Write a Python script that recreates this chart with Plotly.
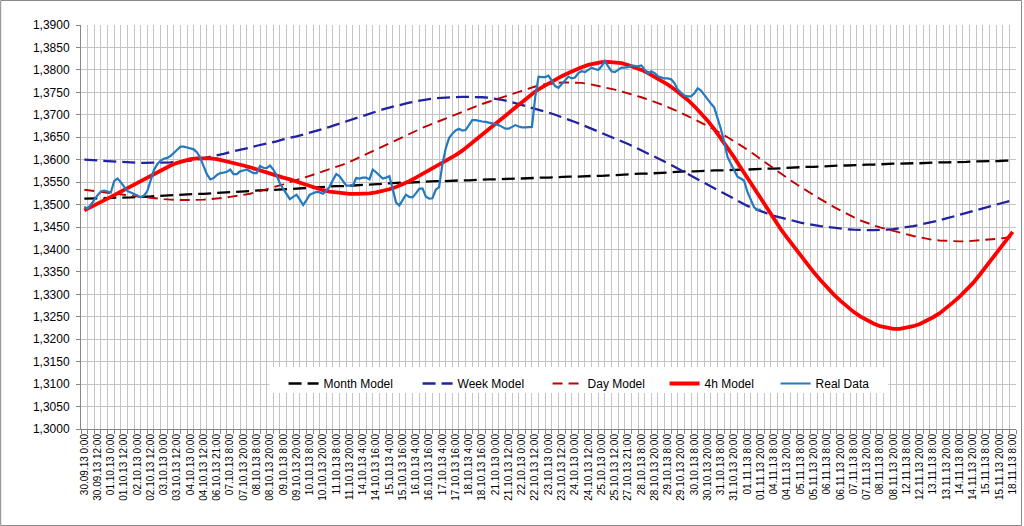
import plotly.graph_objects as go

# ---------------- data ----------------
tick_labels = [
    "30.09.13 0:00", "30.09.13 12:00", "01.10.13 0:00", "01.10.13 12:00", "02.10.13 0:00",
    "02.10.13 12:00", "03.10.13 0:00", "03.10.13 12:00", "04.10.13 0:00", "04.10.13 12:00",
    "06.10.13 21:00", "07.10.13 8:00", "07.10.13 20:00", "08.10.13 8:00", "08.10.13 20:00",
    "09.10.13 8:00", "09.10.13 20:00", "10.10.13 8:00", "10.10.13 20:00", "11.10.13 8:00",
    "11.10.13 20:00", "14.10.13 4:00", "14.10.13 16:00", "15.10.13 4:00", "15.10.13 16:00",
    "16.10.13 4:00", "16.10.13 16:00", "17.10.13 4:00", "17.10.13 16:00", "18.10.13 4:00",
    "18.10.13 16:00", "21.10.13 0:00", "21.10.13 12:00", "22.10.13 0:00", "22.10.13 12:00",
    "23.10.13 0:00", "23.10.13 12:00", "24.10.13 0:00", "24.10.13 12:00", "25.10.13 0:00",
    "25.10.13 12:00", "27.10.13 21:00", "28.10.13 8:00", "28.10.13 20:00", "29.10.13 8:00",
    "29.10.13 20:00", "30.10.13 8:00", "30.10.13 20:00", "31.10.13 8:00", "31.10.13 20:00",
    "01.11.13 8:00", "01.11.13 20:00", "04.11.13 8:00", "04.11.13 20:00", "05.11.13 8:00",
    "05.11.13 20:00", "06.11.13 8:00", "06.11.13 20:00", "07.11.13 8:00", "07.11.13 20:00",
    "08.11.13 8:00", "08.11.13 20:00", "12.11.13 8:00", "12.11.13 20:00", "13.11.13 8:00",
    "13.11.13 20:00", "14.11.13 8:00", "14.11.13 20:00", "15.11.13 8:00", "15.11.13 20:00",
    "18.11.13 8:00",
]

month_model = [
    1.3513, 1.3513, 1.3514, 1.3514, 1.3515, 1.3515, 1.3516, 1.3516, 1.3517, 1.3517,
    1.3518, 1.3519, 1.3520, 1.3520, 1.3521, 1.3522, 1.3523, 1.3524, 1.3524, 1.3525,
    1.3526, 1.3527, 1.3528, 1.3528, 1.3529, 1.3530, 1.3531, 1.3532, 1.3532, 1.3533,
    1.3534, 1.3535, 1.3536, 1.3537, 1.3537, 1.3538, 1.3539, 1.3540, 1.3541, 1.3541,
    1.3542, 1.3543, 1.3544, 1.3545, 1.3546, 1.3546, 1.3547, 1.3548, 1.3549, 1.3549,
    1.3550, 1.3551, 1.3551, 1.3552, 1.3552, 1.3553, 1.3553, 1.3554, 1.3554, 1.3555,
    1.3555, 1.3556, 1.3556, 1.3557, 1.3557, 1.3558, 1.3558, 1.3559, 1.3559, 1.3560,
    1.3560, 1.3561, 1.3561, 1.3562, 1.3562, 1.3563, 1.3563, 1.3564, 1.3564, 1.3565,
    1.3566, 1.3566, 1.3567, 1.3568, 1.3569, 1.3569, 1.3570, 1.3571, 1.3572, 1.3572,
    1.3573, 1.3574, 1.3574, 1.3575, 1.3575, 1.3576, 1.3576, 1.3577, 1.3577, 1.3578,
    1.3578, 1.3579, 1.3579, 1.3580, 1.3580, 1.3581, 1.3582, 1.3582, 1.3583, 1.3584,
    1.3584, 1.3585, 1.3585, 1.3586, 1.3587, 1.3587, 1.3588, 1.3588, 1.3589, 1.3589,
    1.3590, 1.3590, 1.3591, 1.3591, 1.3592, 1.3592, 1.3592, 1.3593, 1.3593, 1.3594,
    1.3594, 1.3594, 1.3595, 1.3595, 1.3596, 1.3596, 1.3596, 1.3597, 1.3597, 1.3598,
    1.3598,
]

week_model = [
    1.3600, 1.3599, 1.3598, 1.3597, 1.3596, 1.3595, 1.3594, 1.3594, 1.3593, 1.3593,
    1.3593, 1.3593, 1.3593, 1.3594, 1.3595, 1.3596, 1.3598, 1.3600, 1.3603, 1.3606,
    1.3610, 1.3613, 1.3617, 1.3620, 1.3624, 1.3627, 1.3631, 1.3634, 1.3638, 1.3641,
    1.3645, 1.3648, 1.3652, 1.3656, 1.3660, 1.3664, 1.3668, 1.3673, 1.3678, 1.3683,
    1.3688, 1.3693, 1.3698, 1.3703, 1.3708, 1.3712, 1.3716, 1.3720, 1.3724, 1.3727,
    1.3730, 1.3733, 1.3735, 1.3737, 1.3738, 1.3739, 1.3740, 1.3740, 1.3740, 1.3740,
    1.3739, 1.3738, 1.3736, 1.3733, 1.3730, 1.3726, 1.3722, 1.3718, 1.3714, 1.3709,
    1.3705, 1.3700, 1.3695, 1.3689, 1.3684, 1.3678, 1.3672, 1.3666, 1.3660, 1.3654,
    1.3648, 1.3641, 1.3635, 1.3628, 1.3621, 1.3614, 1.3607, 1.3600, 1.3592, 1.3584,
    1.3576, 1.3568, 1.3560, 1.3552, 1.3544, 1.3536, 1.3528, 1.3520, 1.3512, 1.3504,
    1.3497, 1.3491, 1.3485, 1.3480, 1.3475, 1.3471, 1.3467, 1.3463, 1.3460, 1.3457,
    1.3454, 1.3452, 1.3450, 1.3448, 1.3446, 1.3445, 1.3444, 1.3443, 1.3443, 1.3443,
    1.3443, 1.3444, 1.3445, 1.3447, 1.3449, 1.3452, 1.3455, 1.3458, 1.3461, 1.3465,
    1.3469, 1.3473, 1.3477, 1.3481, 1.3485, 1.3489, 1.3493, 1.3497, 1.3501, 1.3505,
    1.3510,
]

day_model = [
    1.3533, 1.3531, 1.3529, 1.3527, 1.3525, 1.3523, 1.3521, 1.3519, 1.3518, 1.3516,
    1.3515, 1.3513, 1.3512, 1.3511, 1.3510, 1.3510, 1.3510, 1.3510, 1.3511, 1.3512,
    1.3513, 1.3515, 1.3517, 1.3519, 1.3521, 1.3524, 1.3528, 1.3532, 1.3536, 1.3541,
    1.3545, 1.3550, 1.3554, 1.3559, 1.3564, 1.3569, 1.3574, 1.3578, 1.3583, 1.3589,
    1.3595, 1.3602, 1.3609, 1.3616, 1.3623, 1.3630, 1.3637, 1.3643, 1.3650, 1.3657,
    1.3664, 1.3671, 1.3677, 1.3683, 1.3689, 1.3695, 1.3701, 1.3707, 1.3713, 1.3718,
    1.3724, 1.3729, 1.3734, 1.3739, 1.3744, 1.3749, 1.3754, 1.3759, 1.3763, 1.3767,
    1.3769, 1.3771, 1.3772, 1.3772, 1.3772, 1.3771, 1.3769, 1.3766, 1.3763, 1.3760,
    1.3756, 1.3752, 1.3748, 1.3744, 1.3739, 1.3734, 1.3729, 1.3723, 1.3717, 1.3711,
    1.3704, 1.3697, 1.3690, 1.3683, 1.3675, 1.3667, 1.3659, 1.3650, 1.3641, 1.3632,
    1.3622, 1.3612, 1.3601, 1.3590, 1.3579, 1.3569, 1.3559, 1.3549, 1.3539, 1.3530,
    1.3521, 1.3512, 1.3503, 1.3495, 1.3487, 1.3479, 1.3472, 1.3465, 1.3459, 1.3454,
    1.3449, 1.3445, 1.3441, 1.3437, 1.3433, 1.3430, 1.3427, 1.3424, 1.3421, 1.3420,
    1.3419, 1.3418, 1.3418, 1.3418, 1.3419, 1.3420, 1.3421, 1.3422, 1.3424, 1.3426,
    1.3428,
]

h4_model = [
    1.3487, 1.3494, 1.3501, 1.3509, 1.3517, 1.3525, 1.3533, 1.3541, 1.3549, 1.3557,
    1.3565, 1.3573, 1.3580, 1.3587, 1.3593, 1.3598, 1.3601, 1.3603, 1.3604, 1.3603,
    1.3601, 1.3598, 1.3595, 1.3591, 1.3587, 1.3583, 1.3578, 1.3574, 1.3569, 1.3565,
    1.3560, 1.3556, 1.3551, 1.3546, 1.3541, 1.3536, 1.3532, 1.3529, 1.3527, 1.3525,
    1.3524, 1.3524, 1.3524, 1.3525, 1.3527, 1.3530, 1.3534, 1.3539, 1.3545, 1.3552,
    1.3560, 1.3568, 1.3576, 1.3585, 1.3593, 1.3601, 1.3610, 1.3620, 1.3632, 1.3645,
    1.3658, 1.3670, 1.3681, 1.3692, 1.3704, 1.3717, 1.3730, 1.3742, 1.3752, 1.3761,
    1.3770, 1.3778, 1.3786, 1.3793, 1.3800, 1.3806, 1.3811, 1.3815, 1.3817, 1.3818,
    1.3817, 1.3815, 1.3811, 1.3806, 1.3800, 1.3793, 1.3785, 1.3776, 1.3767, 1.3757,
    1.3746, 1.3733, 1.3719, 1.3704, 1.3687, 1.3668, 1.3648, 1.3627, 1.3605, 1.3582,
    1.3559, 1.3535, 1.3512, 1.3489, 1.3467, 1.3446, 1.3426, 1.3406, 1.3386, 1.3367,
    1.3349, 1.3332, 1.3315, 1.3300, 1.3286, 1.3273, 1.3261, 1.3251, 1.3242, 1.3235,
    1.3229, 1.3225, 1.3223, 1.3223, 1.3225, 1.3229, 1.3234, 1.3241, 1.3249, 1.3258,
    1.3269, 1.3282, 1.3295, 1.3309, 1.3325, 1.3343, 1.3362, 1.3381, 1.3400, 1.3419,
    1.3439,
]

# real data: two samples per category
real_data = [
    1.3495, 1.3491, 1.3500, 1.3511, 1.3521, 1.3529, 1.3531, 1.3529, 1.3527, 1.3552,
    1.3558, 1.3550, 1.3540, 1.3530, 1.3527, 1.3524, 1.3520, 1.3516, 1.3520, 1.3530,
    1.3553, 1.3577, 1.3590, 1.3598, 1.3602, 1.3604, 1.3608, 1.3616, 1.3622, 1.3629,
    1.3629, 1.3627, 1.3625, 1.3623, 1.3616, 1.3604, 1.3585, 1.3567, 1.3556, 1.3559,
    1.3566, 1.3570, 1.3571, 1.3573, 1.3578, 1.3568, 1.3568, 1.3574, 1.3576, 1.3578,
    1.3574, 1.3570, 1.3570, 1.3586, 1.3582, 1.3581, 1.3587, 1.3578, 1.3565, 1.3547,
    1.3535, 1.3523, 1.3512, 1.3517, 1.3522, 1.3511, 1.3499, 1.3510, 1.3522, 1.3525,
    1.3528, 1.3527, 1.3524, 1.3531, 1.3540, 1.3555, 1.3568, 1.3563, 1.3552, 1.3542,
    1.3542, 1.3542, 1.3559, 1.3558, 1.3560, 1.3560, 1.3556, 1.3578, 1.3572, 1.3566,
    1.3558, 1.3560, 1.3563, 1.3535, 1.3505, 1.3498, 1.3510, 1.3522, 1.3517, 1.3516,
    1.3525, 1.3535, 1.3536, 1.3518, 1.3513, 1.3514, 1.3533, 1.3539, 1.3590, 1.3625,
    1.3648, 1.3658, 1.3665, 1.3669, 1.3665, 1.3666, 1.3677, 1.3688, 1.3688, 1.3686,
    1.3685, 1.3684, 1.3683, 1.3681, 1.3679, 1.3677, 1.3673, 1.3669, 1.3669, 1.3674,
    1.3677, 1.3674, 1.3672, 1.3672, 1.3673, 1.3673, 1.3740, 1.3785, 1.3784, 1.3784,
    1.3787, 1.3776, 1.3764, 1.3760, 1.3768, 1.3776, 1.3785, 1.3781, 1.3783, 1.3793,
    1.3797, 1.3795, 1.3800, 1.3805, 1.3802, 1.3800, 1.3808, 1.3820, 1.3808, 1.3797,
    1.3795, 1.3800, 1.3805, 1.3805, 1.3806, 1.3810, 1.3809, 1.3808, 1.3810, 1.3800,
    1.3791, 1.3797, 1.3793, 1.3786, 1.3784, 1.3781, 1.3781, 1.3779, 1.3770, 1.3756,
    1.3749, 1.3743, 1.3741, 1.3741, 1.3748, 1.3759, 1.3754, 1.3744, 1.3733, 1.3725,
    1.3716, 1.3694, 1.3668, 1.3639, 1.3606, 1.3591, 1.3578, 1.3562, 1.3558, 1.3553,
    1.3528, 1.3509, 1.3494, 1.3488, 1.3489,
]

# ---------------- figure ----------------
FONT = "Liberation Sans, Arial, sans-serif"
GRID = "#C4C4C4"
W, H = 1024, 526
ML, MR, MT, MB = 81, 6, 25, 97

n_cat = len(month_model)
x_cat = list(range(n_cat))
x_real = [i / 2 for i in range(len(real_data))]

fig = go.Figure()
fig.add_trace(go.Scatter(x=x_cat, y=month_model, name="Month Model", mode="lines",
                         legendwidth=89,
                         line=dict(color="#000000", width=2.3, dash="13px,6px")))
fig.add_trace(go.Scatter(x=x_cat, y=week_model, name="Week Model", mode="lines",
                         legendwidth=85,
                         line=dict(color="#2222A0", width=2.3, dash="13px,6px")))
fig.add_trace(go.Scatter(x=x_cat, y=day_model, name="Day Model", mode="lines",
                         legendwidth=72,
                         line=dict(color="#C00000", width=1.9, dash="10px,6px")))
fig.add_trace(go.Scatter(x=x_cat, y=h4_model, name="4h Model", mode="lines",
                         legendwidth=66,
                         line=dict(color="#FF0000", width=3.8)))
fig.add_trace(go.Scatter(x=x_real, y=real_data, name="Real Data", mode="lines",
                         legendwidth=60,
                         line=dict(color="#2479C0", width=2.2)))

pw = W - ML - MR
ph = H - MT - MB


def px_x(x):
    return (x - ML) / pw


def px_y(y):
    return 1 - (y - MT) / ph


fig.update_layout(
    width=W, height=H,
    margin=dict(l=ML, r=MR, t=MT, b=MB, pad=0),
    paper_bgcolor="white", plot_bgcolor="white",
    separators=", ",
    font=dict(family=FONT, size=12, color="#000000"),
    showlegend=True,
    legend=dict(
        orientation="h",
        x=px_x(284), xanchor="left",
        y=px_y(369), yanchor="top",
        bgcolor="rgba(255,255,255,0)", borderwidth=0,
        font=dict(family=FONT, size=12, color="#000000"),
        itemwidth=30,
        tracegroupgap=0,
    ),
    xaxis=dict(
        range=[-0.5, n_cat - 0.5],
        tickmode="array",
        tickvals=[2 * i for i in range(len(tick_labels))],
        ticktext=tick_labels,
        tickangle=-90,
        tickfont=dict(family=FONT, size=10, color="#000000"),
        showgrid=False,
        showline=True, linecolor="#868686", linewidth=1,
        ticks="", zeroline=False,
        minor=dict(tickmode="array", tickvals=[k - 0.5 for k in range(n_cat + 1)],
                   showgrid=True, gridcolor=GRID, gridwidth=1,
                   ticks="outside", ticklen=4, tickcolor="#868686"),
        fixedrange=True,
    ),
    yaxis=dict(
        range=[1.30, 1.39],
        tick0=1.30, dtick=0.005,
        tickformat=".4f",
        tickfont=dict(family=FONT, size=12, color="#000000"),
        showgrid=True, gridcolor=GRID, gridwidth=1,
        showline=True, linecolor="#868686", linewidth=1,
        ticks="outside", ticklen=4, tickcolor="#868686",
        ticklabelstandoff=4,
        zeroline=False,
        fixedrange=True,
    ),
    shapes=[
        dict(
            type="rect", xref="paper", yref="paper",
            x0=px_x(270), x1=px_x(890), y0=px_y(393), y1=px_y(367),
            line=dict(width=0), fillcolor="white", layer="above",
        ),
        dict(
            type="rect", xref="paper", yref="paper",
            x0=px_x(0.5), x1=px_x(W - 0.5),
            y0=px_y(H - 0.5), y1=px_y(0.5),
            line=dict(color="#898989", width=1), fillcolor="rgba(0,0,0,0)",
            layer="above",
        ),
    ],
)

fig.write_html(
    "out.html",
    config={"displayModeBar": False},
    post_script="document.body.style.margin='0';",
)
